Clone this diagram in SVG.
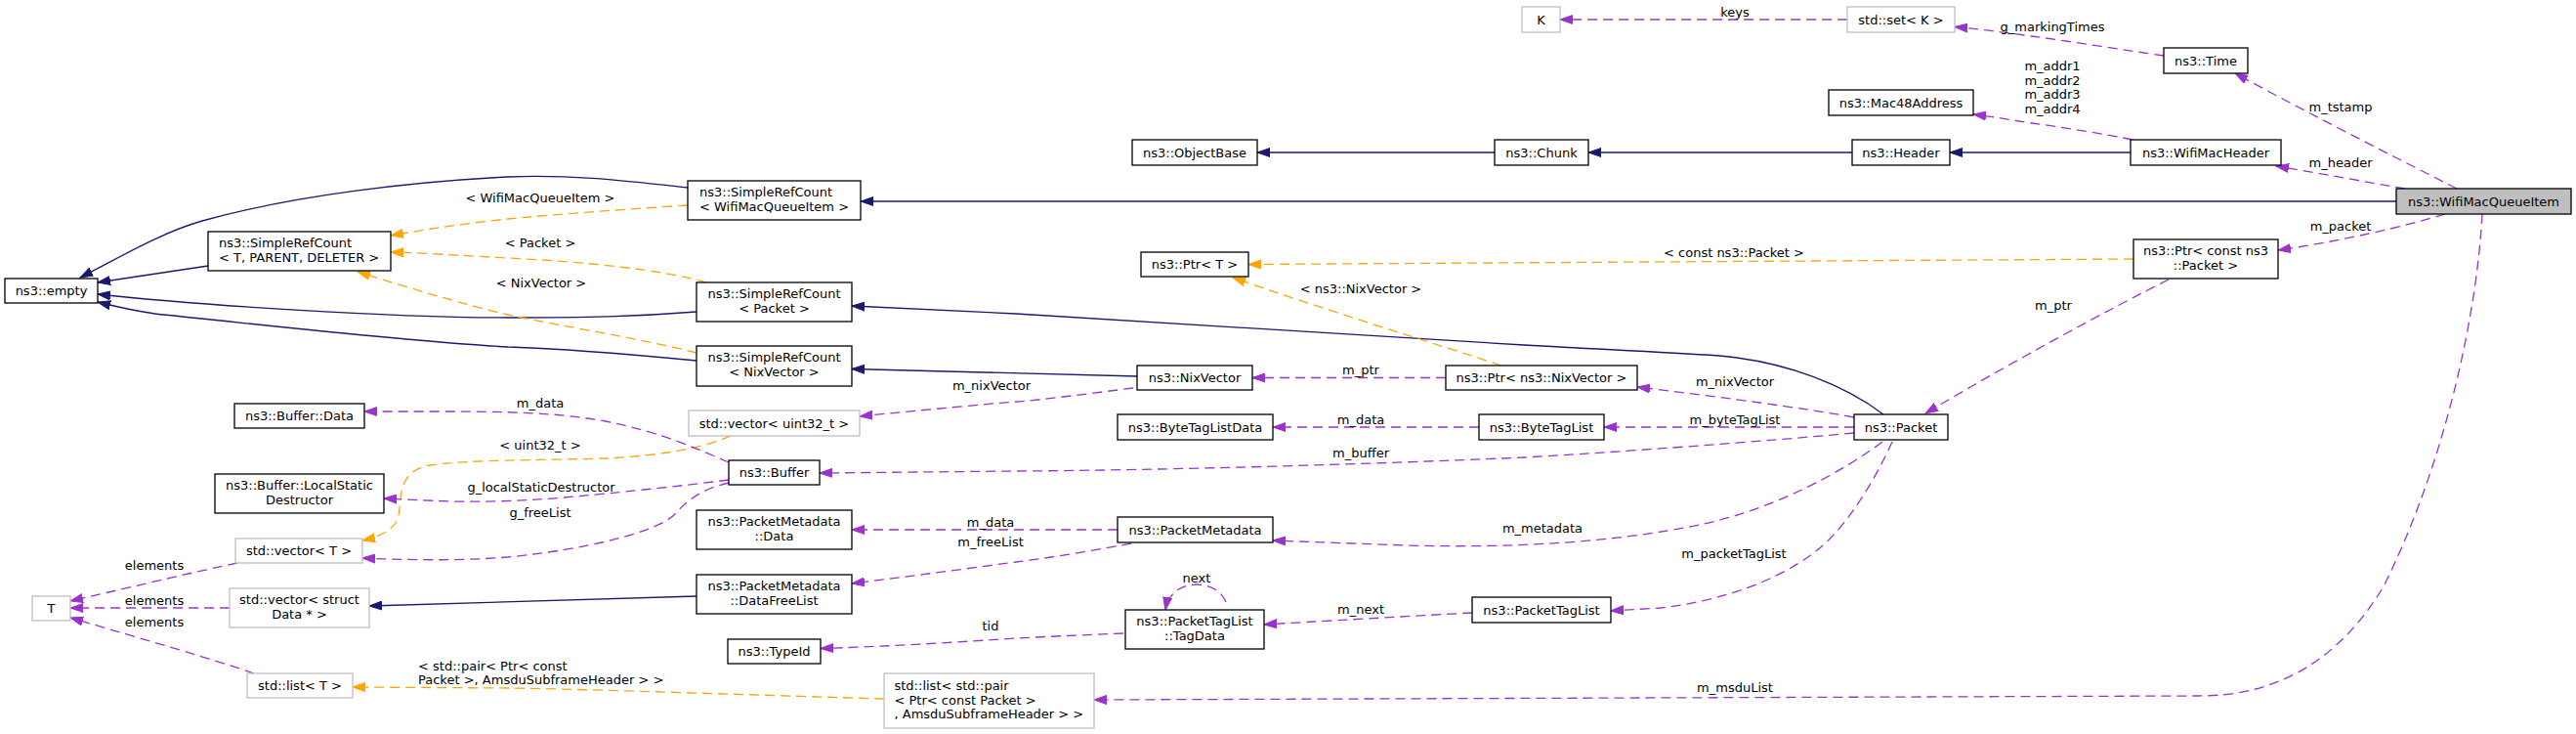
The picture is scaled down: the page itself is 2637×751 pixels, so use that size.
<svg xmlns="http://www.w3.org/2000/svg" width="2637" height="751" viewBox="0 0 2637 751">
<style>
text{font-family:"DejaVu Sans","Liberation Sans",sans-serif;font-size:13px;fill:#000}
.c{text-anchor:middle}
.n rect{fill:#fff;stroke:#000;stroke-width:1.3}
.g rect{fill:#fff;stroke:#bfbfbf;stroke-width:1.3}
.m rect{fill:#bfbfbf;stroke:#000;stroke-width:1.3}
.e path{fill:none;stroke-width:1.3}
.inh{stroke:#191970;marker-end:url(#aB)}
.tpl{stroke:#ffa500;stroke-dasharray:10,6;marker-end:url(#aO)}
.use{stroke:#9a32cd;stroke-dasharray:10,6;marker-end:url(#aP)}
</style>
<defs>
<marker id="aB" markerWidth="14" markerHeight="10" refX="13" refY="5" orient="auto" markerUnits="userSpaceOnUse"><path d="M0,0.5 L13,5 L0,9.5 z" fill="#191970" stroke="#191970" stroke-width="1"/></marker>
<marker id="aO" markerWidth="14" markerHeight="10" refX="13" refY="5" orient="auto" markerUnits="userSpaceOnUse"><path d="M0,0.5 L13,5 L0,9.5 z" fill="#ffa500" stroke="#ffa500" stroke-width="1"/></marker>
<marker id="aP" markerWidth="14" markerHeight="10" refX="13" refY="5" orient="auto" markerUnits="userSpaceOnUse"><path d="M0,0.5 L13,5 L0,9.5 z" fill="#9a32cd" stroke="#9a32cd" stroke-width="1"/></marker>
</defs>
<rect width="2637" height="751" fill="#fff"/>

<g id="edges" class="e">
<path class="inh" d="M2453,206 L881,206"/>
<path class="inh" d="M704,192 C640,185 580,178 520,181 C420,186 300,200 207,226 C165,238 125,262 82,284"/>
<path class="inh" d="M213,272 L100,289"/>
<path class="inh" d="M713,319 C650,324 600,325 520,325 C400,325 200,312 100,301"/>
<path class="inh" d="M713,369 C640,362 580,357 520,355 C400,348 250,330 167,322 C140,319 120,314 100,309"/>
<path class="inh" d="M1530,156 L1287,156"/>
<path class="inh" d="M1896,156 L1626,156"/>
<path class="inh" d="M2181,156 L1996,156"/>
<path class="inh" d="M1928,424 C1890,395 1830,370 1760,364 C1700,360 1650,358 1560,353 L1040,321 L872,313"/>
<path class="inh" d="M1164,385 L872,377.5"/>
<path class="inh" d="M713,610 L378,620"/>

<path class="tpl" d="M704,210 C640,214 560,220 520,224 C480,228 440,234 400,241"/>
<path class="tpl" d="M723,289 C680,276 600,268 520,264 C480,262 440,259 400,258"/>
<path class="tpl" d="M713,361 C650,345 580,335 520,322 C480,313 420,295 366,278"/>
<path class="tpl" d="M2184,265 L1278,270.5"/>
<path class="tpl" d="M1537,374 C1480,355 1350,315 1262,284"/>
<path class="tpl" d="M748,446 C720,458 680,466 620,469 C560,471 480,470 440,476 C400,483 415,520 405,535 C398,545 385,550 371,553"/>
<path class="tpl" d="M905,715 C800,712 600,705 520,704 L361,703"/>

<path class="use" d="M2183,143 C2160,138 2110,130 2080,126 C2060,123 2045,120 2020,117"/>
<path class="use" d="M2215,57 C2180,52 2110,41 2080,37 C2050,33 2030,30 2001,27.5"/>
<path class="use" d="M1891,20 L1597,20"/>
<path class="use" d="M2515,193 C2470,170 2380,125 2288,75"/>
<path class="use" d="M2462,193 C2420,186 2380,178 2330,170"/>
<path class="use" d="M2503,219 C2460,232 2400,246 2332,256"/>
<path class="use" d="M2541,219 C2535,330 2500,480 2440,600 C2380,700 2300,712 2250,712 L1120,716"/>
<path class="use" d="M2220,286 C2160,316 2060,370 1971,423"/>
<path class="use" d="M1480,386.5 L1282,386.5"/>
<path class="use" d="M1898,427 C1850,418 1760,406 1676,396"/>
<path class="use" d="M1898,437 L1642,437"/>
<path class="use" d="M1514,437 L1303,437"/>
<path class="use" d="M1898,443 C1800,452 1650,463 1560,468 C1400,475 1200,481 1040,482 L839,484"/>
<path class="use" d="M1160,397 C1120,402 1060,410 1040,411 C980,416 930,421 880,426"/>
<path class="use" d="M746,473 C720,462 680,443 620,431 C570,422 520,421 450,421 L373,421"/>
<path class="use" d="M746,491 C700,497 640,503 620,505 C560,511 520,514 460,513 L393,510"/>
<path class="use" d="M746,494 C720,500 705,510 690,527 C670,545 600,562 520,570 C470,574 420,573 371,571"/>
<path class="use" d="M1144,542 L872,542"/>
<path class="use" d="M1158,556 C1120,563 1080,570 1040,575 C980,583 930,590 872,597"/>
<path class="use" d="M1150,648 C1100,650 1060,652 1040,653 C980,657 920,661 840,663.5"/>
<path class="use" d="M1255,616 C1250,604 1238,598 1225,598 C1210,598 1196,606 1193,624"/>
<path class="use" d="M1507,627 C1450,630 1380,634 1294,639"/>
<path class="use" d="M1927,452 C1890,480 1820,520 1740,537 C1650,555 1550,561 1440,558 L1303,553"/>
<path class="use" d="M1937,452 C1920,490 1890,540 1860,563 C1820,595 1760,615 1700,622 L1649,625"/>
<path class="use" d="M243,576 C200,585 150,597 72,615"/>
<path class="use" d="M235,622 L72,622"/>
<path class="use" d="M260,689 C220,675 150,655 72,632"/>

<text class="c" x="553" y="206.5">&lt; WifiMacQueueItem &gt;</text>
<text class="c" x="553" y="252.5">&lt; Packet &gt;</text>
<text class="c" x="554" y="293.5">&lt; NixVector &gt;</text>
<text class="c" x="553" y="416.5">m_data</text>
<text class="c" x="553" y="459.5">&lt; uint32_t &gt;</text>
<text class="c" x="554" y="502.5">g_localStaticDestructor</text>
<text class="c" x="553" y="528.5">g_freeList</text>
<text x="428" y="685.5">&lt; std::pair&lt; Ptr&lt; const</text>
<text x="428" y="700">Packet &gt;, AmsduSubframeHeader &gt; &gt;</text>
<text class="c" x="158" y="582.5">elements</text>
<text class="c" x="158" y="618.5">elements</text>
<text class="c" x="158" y="640.5">elements</text>
<text class="c" x="1015" y="398.5">m_nixVector</text>
<text class="c" x="1014" y="538.5">m_data</text>
<text class="c" x="1014" y="558.5">m_freeList</text>
<text class="c" x="1014" y="644.5">tid</text>
<text class="c" x="1393" y="299.5">&lt; ns3::NixVector &gt;</text>
<text class="c" x="1393" y="382.5">m_ptr</text>
<text class="c" x="1393" y="433.5">m_data</text>
<text class="c" x="1393" y="467.5">m_buffer</text>
<text class="c" x="1225" y="595.5">next</text>
<text class="c" x="1393" y="627.5">m_next</text>
<text class="c" x="1776" y="16.5">keys</text>
<text class="c" x="1775" y="262.5">&lt; const ns3::Packet &gt;</text>
<text class="c" x="1776" y="394.5">m_nixVector</text>
<text class="c" x="1776" y="433.5">m_byteTagList</text>
<text class="c" x="1579" y="544.5">m_metadata</text>
<text class="c" x="1775" y="570.5">m_packetTagList</text>
<text class="c" x="1776" y="707.5">m_msduList</text>
<text class="c" x="2101" y="31.5">g_markingTimes</text>
<text class="c" x="2101" y="72">m_addr1</text>
<text class="c" x="2101" y="86.5">m_addr2</text>
<text class="c" x="2101" y="101">m_addr3</text>
<text class="c" x="2101" y="115.5">m_addr4</text>
<text class="c" x="2102" y="316.5">m_ptr</text>
<text class="c" x="2396" y="113.5">m_tstamp</text>
<text class="c" x="2396" y="170.5">m_header</text>
<text class="c" x="2396" y="235.5">m_packet</text>
</g>

<g id="node_WifiMacQueueItem" class="m"><rect x="2453" y="193" width="179" height="26"/><text class="c" x="2542.5" y="210.5">ns3::WifiMacQueueItem</text></g>
<g id="node_SRC_WMQI" class="n"><rect x="704" y="185" width="177" height="40"/><text x="716" y="201">ns3::SimpleRefCount</text><text x="716" y="215.5">&lt; WifiMacQueueItem &gt;</text></g>
<g id="node_SRC_TPD" class="n"><rect x="213" y="237" width="187" height="40"/><text x="224" y="253">ns3::SimpleRefCount</text><text x="224" y="267.5">&lt; T, PARENT, DELETER &gt;</text></g>
<g id="node_empty" class="n"><rect x="5" y="285" width="95" height="25"/><text class="c" x="52.5" y="302">ns3::empty</text></g>
<g id="node_ObjectBase" class="n"><rect x="1159" y="143" width="128" height="26"/><text class="c" x="1223" y="160.5">ns3::ObjectBase</text></g>
<g id="node_Chunk" class="n"><rect x="1530" y="143" width="96" height="26"/><text class="c" x="1578" y="160.5">ns3::Chunk</text></g>
<g id="node_Header" class="n"><rect x="1896" y="143" width="100" height="26"/><text class="c" x="1946" y="160.5">ns3::Header</text></g>
<g id="node_WifiMacHeader" class="n"><rect x="2181" y="143" width="154" height="26"/><text class="c" x="2258" y="160.5">ns3::WifiMacHeader</text></g>
<g id="node_Mac48Address" class="n"><rect x="1872" y="92" width="148" height="26"/><text class="c" x="1946" y="109.5">ns3::Mac48Address</text></g>
<g id="node_Time" class="n"><rect x="2215" y="49" width="86" height="26"/><text class="c" x="2258" y="66.5">ns3::Time</text></g>
<g id="node_setK" class="g"><rect x="1891" y="7" width="110" height="26"/><text class="c" x="1946" y="24.5">std::set&lt; K &gt;</text></g>
<g id="node_K" class="g"><rect x="1558" y="7" width="39" height="26"/><text class="c" x="1577.5" y="24.5">K</text></g>
<g id="node_PtrConstPacket" class="n"><rect x="2184" y="245" width="148" height="40"/><text class="c" x="2258" y="261">ns3::Ptr&lt; const ns3</text><text class="c" x="2258" y="275.5">::Packet &gt;</text></g>
<g id="node_PtrT" class="n"><rect x="1168" y="258" width="110" height="25"/><text class="c" x="1223" y="275">ns3::Ptr&lt; T &gt;</text></g>
<g id="node_SRC_Packet" class="n"><rect x="713" y="289" width="159" height="40"/><text class="c" x="792.5" y="305">ns3::SimpleRefCount</text><text class="c" x="792.5" y="319.5">&lt; Packet &gt;</text></g>
<g id="node_SRC_NixVector" class="n"><rect x="713" y="354" width="159" height="41"/><text class="c" x="792.5" y="370">ns3::SimpleRefCount</text><text class="c" x="792.5" y="384.5">&lt; NixVector &gt;</text></g>
<g id="node_NixVector" class="n"><rect x="1164" y="374" width="118" height="25"/><text class="c" x="1223" y="391">ns3::NixVector</text></g>
<g id="node_PtrNixVector" class="n"><rect x="1480" y="374" width="196" height="25"/><text class="c" x="1578" y="391">ns3::Ptr&lt; ns3::NixVector &gt;</text></g>
<g id="node_vector_uint32" class="g"><rect x="705" y="420" width="175" height="26"/><text class="c" x="792.5" y="437.5">std::vector&lt; uint32_t &gt;</text></g>
<g id="node_BufferData" class="n"><rect x="240" y="413" width="133" height="25"/><text class="c" x="306.5" y="430">ns3::Buffer::Data</text></g>
<g id="node_ByteTagListData" class="n"><rect x="1144" y="424" width="159" height="26"/><text class="c" x="1223.5" y="441.5">ns3::ByteTagListData</text></g>
<g id="node_ByteTagList" class="n"><rect x="1514" y="424" width="128" height="26"/><text class="c" x="1578" y="441.5">ns3::ByteTagList</text></g>
<g id="node_Packet" class="n"><rect x="1898" y="424" width="96" height="26"/><text class="c" x="1946" y="441.5">ns3::Packet</text></g>
<g id="node_Buffer" class="n"><rect x="746" y="471" width="93" height="25"/><text class="c" x="792.5" y="488">ns3::Buffer</text></g>
<g id="node_LocalStaticDestructor" class="n"><rect x="220" y="485" width="173" height="40"/><text class="c" x="306.5" y="501">ns3::Buffer::LocalStatic</text><text class="c" x="306.5" y="515.5">Destructor</text></g>
<g id="node_vectorT" class="g"><rect x="241" y="551" width="130" height="25"/><text class="c" x="306" y="568">std::vector&lt; T &gt;</text></g>
<g id="node_PMData" class="n"><rect x="713" y="522" width="159" height="40"/><text class="c" x="792.5" y="538">ns3::PacketMetadata</text><text class="c" x="792.5" y="552.5">::Data</text></g>
<g id="node_PacketMetadata" class="n"><rect x="1144" y="529" width="159" height="26"/><text class="c" x="1223.5" y="546.5">ns3::PacketMetadata</text></g>
<g id="node_PMDataFreeList" class="n"><rect x="713" y="588" width="159" height="40"/><text class="c" x="792.5" y="604">ns3::PacketMetadata</text><text class="c" x="792.5" y="618.5">::DataFreeList</text></g>
<g id="node_vectorStructData" class="g"><rect x="235" y="602" width="143" height="40"/><text class="c" x="306.5" y="618">std::vector&lt; struct</text><text class="c" x="306.5" y="632.5">Data * &gt;</text></g>
<g id="node_T" class="g"><rect x="33" y="610" width="39" height="25"/><text class="c" x="52.5" y="627">T</text></g>
<g id="node_TypeId" class="n"><rect x="745" y="654" width="95" height="25"/><text class="c" x="792.5" y="671">ns3::TypeId</text></g>
<g id="node_TagData" class="n"><rect x="1152" y="624" width="142" height="40"/><text class="c" x="1223" y="640">ns3::PacketTagList</text><text class="c" x="1223" y="654.5">::TagData</text></g>
<g id="node_PacketTagList" class="n"><rect x="1507" y="611" width="142" height="26"/><text class="c" x="1578" y="628.5">ns3::PacketTagList</text></g>
<g id="node_listT" class="g"><rect x="253" y="689" width="108" height="25"/><text class="c" x="307" y="706">std::list&lt; T &gt;</text></g>
<g id="node_listPair" class="g"><rect x="905" y="689" width="215" height="56"/><text x="915.5" y="706">std::list&lt; std::pair</text><text x="915.5" y="720.5">&lt; Ptr&lt; const Packet &gt;</text><text x="915.5" y="735">, AmsduSubframeHeader &gt; &gt;</text></g>
</svg>
